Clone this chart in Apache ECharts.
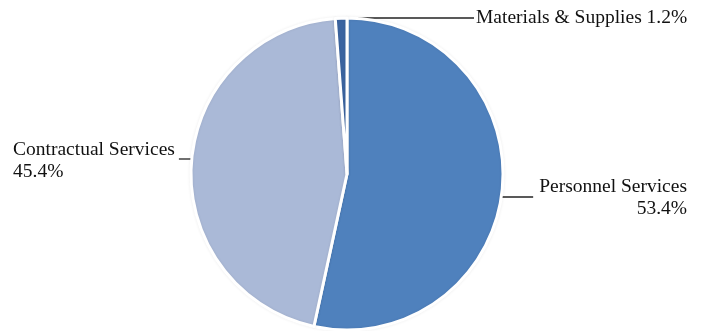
<!DOCTYPE html>
<html><head><meta charset="utf-8">
<script src="https://cdn.jsdelivr.net/npm/echarts@6/dist/echarts.min.js"></script>
<style>html,body{margin:0;padding:0;background:#fff}#c{width:702px;height:331px}</style>
</head><body><div id="c"></div>
<script>
const categories = ["Personnel Services", "Contractual Services", "Materials & Supplies"];
const values = [53.4, 45.4, 1.2];
const colors = ["#4F81BD", "#AAB9D7", "#3B64A0"];

const CX = 347, CY = 174, R = 156;
const chart = echarts.init(document.getElementById('c'), null, {renderer: 'canvas'});
// label anchor positions (text) and the y of their leader line
const labelPos = [
  {x: 687, y: 198, align: 'right', lineY: 197, side: 1},
  {x: 13, y: 161, align: 'left', lineY: 159, side: -1},
  {x: 476, y: 18, align: 'left', lineY: 18, side: 1, top: true}
];
const labelFmt = [
  p => p.name + '\n' + p.value.toFixed(1) + '%',
  p => p.name + '\n' + p.value.toFixed(1) + '%',
  p => p.name + ' ' + p.value.toFixed(1) + '%'
];
chart.setOption({
  animation: false,
  series: [{
    type: 'pie',
    center: [CX, CY],
    radius: [0, R],
    startAngle: 90,
    clockwise: true,
    data: categories.map((n, i) => ({
      name: n, value: values[i],
      itemStyle: {color: colors[i]},
      label: {formatter: labelFmt[i], align: labelPos[i].align}
    })),
    itemStyle: {borderColor: '#fff', borderWidth: 3, shadowColor: 'rgba(0,0,0,0.08)', shadowBlur: 3},
    label: {
      show: true, position: 'outside', overflow: 'none',
      fontFamily: 'Liberation Serif', fontSize: 19.5, color: '#111', lineHeight: 22
    },
    labelLine: {show: true, length: 10, length2: 10, lineStyle: {color: '#222', width: 1.3}},
    labelLayout: function (params) {
      const p = labelPos[params.dataIndex];
      const w = params.labelRect.width;
      const dy = p.lineY - CY;
      let edgeX;
      if (p.top) edgeX = CX;
      else edgeX = CX + p.side * Math.sqrt(R * R - dy * dy);
      let endX;
      if (p.align === 'right') endX = p.x - w - 6;
      else if (p.side < 0) endX = p.x + w + 4;
      else endX = p.x - 2;
      return {
        x: p.x, y: p.y, align: p.align, verticalAlign: 'middle',
        labelLinePoints: [[edgeX, p.lineY], [(edgeX + endX) / 2, p.lineY], [endX, p.lineY]]
      };
    }
  }]
});
</script></body></html>
